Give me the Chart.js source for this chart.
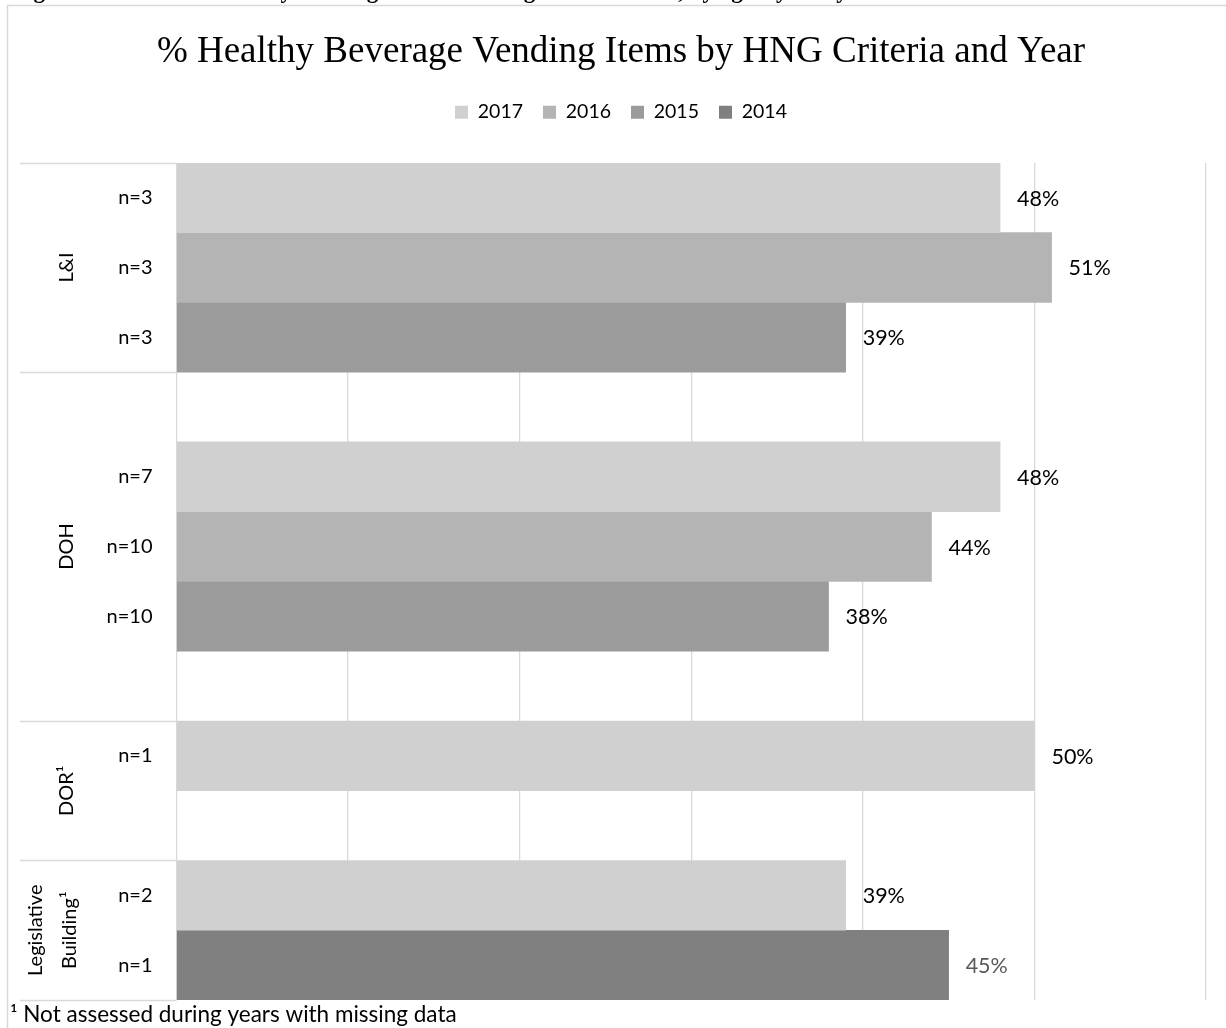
<!DOCTYPE html>
<html>
<head>
<meta charset="utf-8">
<title>Healthy Beverage Vending Items</title>
<script src="https://cdn.jsdelivr.net/npm/chart.js@4.4.1/dist/chart.umd.min.js"></script>
<style>
  html, body { margin: 0; padding: 0; background: #fff; }
  #wrap { position: relative; width: 1226px; height: 1028px; }
</style>
</head>
<body>
<div id="wrap"><canvas id="chart"></canvas></div>
<script>
// rows of the category axis, top to bottom ('' = spacer row)
const rowLabels = ['n=3', 'n=3', 'n=3', '', 'n=7', 'n=10', 'n=10', '', 'n=1', '', 'n=2', 'n=1'];

// agency groups: name lines and how many rows each spans
const groupNames = [['L&I'], ['DOH'], ['DOR¹'], ['Legislative', 'Building¹']];
const groupRows = [3, 5, 2, 2];

const years = ['2017', '2016', '2015', '2014'];
const pct2017 = [48, null, null, null, 48, null, null, null, 50, null, 39, null];
const pct2016 = [null, 51, null, null, null, 44, null, null, null, null, null, null];
const pct2015 = [null, null, 39, null, null, null, 38, null, null, null, null, null];
const pct2014 = [null, null, null, null, null, null, null, null, null, null, null, 45];

const xTicks = [0, 10, 20, 30, 40, 50, 60];

const yearColors = ['#d0d0d0', '#b4b4b4', '#9b9b9b', '#808080'];
const labelColors = ['#000000', '#000000', '#000000', '#595959'];
const GRID = '#d9d9d9';
const SANS = 'Lato, "Open Sans", sans-serif';
const SERIF = '"Liberation Serif", "Times New Roman", serif';

const caption = 'Figure 3: Percent of Healthy Beverage Items Meeting HNG Criteria, by agency and year';
const footnote = '¹ Not assessed during years with missing data';

const datasets = [pct2017, pct2016, pct2015, pct2014].map((vals, i) => ({
  label: years[i],
  data: vals,
  backgroundColor: yearColors[i],
  borderWidth: 0,
  barPercentage: 1,
  categoryPercentage: 1,
}));

// frame, caption stub and footnote
const framePlugin = {
  id: 'frame',
  beforeDraw(chart) {
    const ctx = chart.ctx;
    ctx.save();
    ctx.strokeStyle = GRID;
    ctx.lineWidth = 1.5;
    ctx.strokeRect(7.5, 5.5, 1400, 1200);
    ctx.fillStyle = '#000';
    ctx.font = 'bold 23px ' + SERIF;
    ctx.textBaseline = 'alphabetic';
    ctx.textAlign = 'left';
    ctx.fillText(caption, 13, -2);
    ctx.font = '22.5px ' + SANS;
    ctx.fillText(footnote, 10, 1022);
    ctx.restore();
  }
};

// agency names and separators on the left of the category axis
const groupPlugin = {
  id: 'groups',
  afterDraw(chart) {
    const { ctx, chartArea } = chart;
    const rowH = (chartArea.bottom - chartArea.top) / rowLabels.length;
    ctx.save();
    ctx.strokeStyle = GRID;
    ctx.lineWidth = 1.3;
    let row = 0;
    const edges = [0];
    groupRows.forEach(n => { row += n; edges.push(row); });
    edges.forEach(r => {
      const y = Math.round(chartArea.top + r * rowH) + 0.5;
      ctx.beginPath();
      ctx.moveTo(20, y);
      ctx.lineTo(chartArea.left, y);
      ctx.stroke();
    });
    ctx.fillStyle = '#000';
    ctx.font = '20px ' + SANS;
    ctx.textAlign = 'center';
    ctx.textBaseline = 'middle';
    groupNames.forEach((lines, g) => {
      const yMid = chartArea.top + (edges[g] + edges[g + 1]) / 2 * rowH;
      const xMid = lines.length > 1 ? 53 : 67;
      lines.forEach((txt, k) => {
        const x = xMid + (k - (lines.length - 1) / 2) * 34;
        ctx.save();
        ctx.translate(x, yMid);
        ctx.rotate(-Math.PI / 2);
        ctx.fillText(txt, 0, 0);
        ctx.restore();
      });
    });
    ctx.restore();
  }
};

// percentage labels to the right of each bar
const valueLabels = {
  id: 'valueLabels',
  afterDatasetsDraw(chart) {
    const ctx = chart.ctx;
    ctx.save();
    ctx.font = '21.5px ' + SANS;
    ctx.textAlign = 'left';
    ctx.textBaseline = 'middle';
    chart.data.datasets.forEach((ds, i) => {
      const meta = chart.getDatasetMeta(i);
      meta.data.forEach((bar, j) => {
        const v = ds.data[j];
        if (v === null || v === undefined) return;
        ctx.fillStyle = labelColors[i];
        ctx.fillText(v + '%', bar.x + 17, bar.y + 1);
      });
    });
    ctx.restore();
  }
};

new Chart(document.getElementById('chart'), {
  type: 'bar',
  data: { labels: rowLabels, datasets },
  options: {
    indexAxis: 'y',
    responsive: true,
    maintainAspectRatio: false,
    animation: false,
    layout: { padding: { left: 36, right: 20, top: 0, bottom: 22 } },
    plugins: {
      title: {
        display: true,
        text: '% Healthy Beverage Vending Items by HNG Criteria and Year',
        color: '#000',
        font: { family: SERIF, size: 37, weight: 'normal' },
        padding: { top: 30, bottom: 8 },
      },
      legend: {
        position: 'top',
        labels: {
          color: '#000',
          font: { family: SANS, size: 19.5 },
          boxWidth: 13,
          boxHeight: 13,
          padding: 20,
        },
      },
      tooltip: { enabled: false },
    },
    scales: {
      x: {
        position: 'top',
        stacked: true,
        min: 0,
        max: 60,
        afterBuildTicks: (axis) => { axis.ticks = xTicks.map(v => ({ value: v })); },
        afterFit: (axis) => { axis.height = 31; },
        ticks: { display: false },
        grid: { color: GRID, lineWidth: 1.3, drawTicks: false },
        border: { display: false },
      },
      y: {
        stacked: true,
        grid: { display: false },
        border: { display: false },
        ticks: { color: '#000', font: { family: SANS, size: 20 }, padding: 16 },
        afterFit: (axis) => { axis.width = 140.5; },
      },
    },
  },
  plugins: [framePlugin, groupPlugin, valueLabels],
});
</script>
</body>
</html>
